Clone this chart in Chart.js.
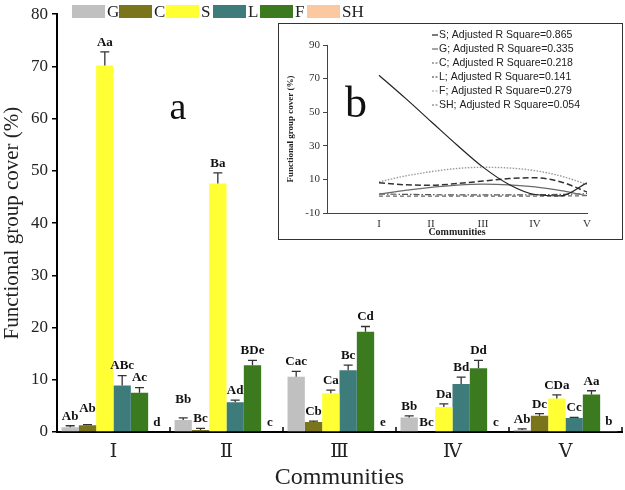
<!DOCTYPE html>
<html>
<head>
<meta charset="utf-8">
<script src="https://cdn.jsdelivr.net/npm/chart.js@4.4.1/dist/chart.umd.min.js"></script>
<style>
  body { margin: 0; background: #fff; }
  #wrap { position: relative; width: 625px; height: 490px; }
  #wrap canvas { display: block; }
  #inset { position: absolute; left: 278px; top: 23px; width: 343px; height: 215px; border: 1px solid #333; background: #fff; }
</style>
</head>
<body>
<div id="wrap">
  <canvas id="main" width="625" height="490"></canvas>
  <div id="inset"><canvas id="fit" width="343" height="215"></canvas></div>
</div>
<script>
// --- data (panel a) ---
const communities = ['Ⅰ', 'Ⅱ', 'Ⅲ', 'Ⅳ', 'Ⅴ'];
const groups = ['G', 'C', 'S', 'L', 'F', 'SH'];

const coverG  = [0.9, 2.3, 10.6, 2.8, 0.4];
const coverC  = [1.3, 0.4, 1.9, 0, 3.1];
const coverS  = [70.2, 47.6, 7.4, 4.8, 6.4];
const coverL  = [8.9, 5.7, 11.8, 9.2, 2.7];
const coverF  = [7.5, 12.8, 19.2, 12.2, 7.2];
const coverSH = [0, 0, 0, 0, 0.2];

const errG  = [0.3, 0.4, 1.0, 0.3, 0.2];
const errC  = [0.1, 0.3, 0.2, 0, 0.4];
const errS  = [2.6, 2.0, 0.6, 0.6, 0.7];
const errL  = [1.9, 0.4, 1.0, 1.3, 0.1];
const errF  = [1.0, 0.9, 1.0, 1.5, 0.7];
const errSH = [0, 0, 0, 0, 0];

const letG  = ['Ab', 'Bb', 'Cac', 'Bb', 'Ab'];
const letC  = ['Ab', 'Bc', 'Cb', 'Bc', 'Dc'];
const letS  = ['Aa', 'Ba', 'Ca', 'Da', 'CDa'];
const letL  = ['ABc', 'Ad', 'Bc', 'Bd', 'Cc'];
const letF  = ['Ac', 'BDe', 'Cd', 'Dd', 'Aa'];
const letSH = ['d', 'c', 'e', 'c', 'b'];

// --- data (panel b, fitted curves) ---
const fitX = [1, 1.5, 2, 2.5, 3, 3.5, 4, 4.5, 5];
const fitS  = [72, 58.5, 44.5, 30.5, 17.3, 7, 1, 0.2, 8];
const fitG  = [1.2, 3.5, 5.3, 6.6, 7.2, 6.8, 5.6, 3.3, 0.3];
const fitC  = [1.3, 1.1, 0.9, 0.8, 0.8, 0.8, 0.9, 1.1, 1.5];
const fitL  = [8, 6.8, 6.5, 7.5, 9, 10.5, 11, 8.5, 2.5];
const fitF  = [8.5, 12, 14.6, 16.5, 17.2, 16.8, 15.2, 12, 7];
const fitSH = [0.1, 0, 0, 0, 0, 0, 0, 0.1, 0.3];
const fitR2 = ['0.865', '0.335', '0.218', '0.141', '0.279', '0.054'];
const romans = ['I', 'II', 'III', 'IV', 'V'];

const colors = ['#c0c0c0', '#7a741c', '#ffff33', '#3e7b7b', '#3c7a20', '#fbc8a0'];
const covers = [coverG, coverC, coverS, coverL, coverF, coverSH];
const errors = [errG, errC, errS, errL, errF, errSH];
const letters = [letG, letC, letS, letL, letF, letSH];

// a few letter labels sit higher in the original (dataset, community) -> extra lift in px
const letterLift = { '1,0': 7, '0,1': 9 };

const serif = "'Liberation Serif', 'DejaVu Serif', serif";

const barExtras = {
  id: 'barExtras',
  afterDatasetsDraw(chart) {
    const ctx = chart.ctx, y = chart.scales.y, x = chart.scales.x;
    ctx.save();
    chart.data.datasets.forEach((ds, di) => {
      chart.getDatasetMeta(di).data.forEach((bar, i) => {
        const e = errors[di][i];
        const top = y.getPixelForValue(ds.data[i] + e);
        if (e > 0) {
          ctx.strokeStyle = '#333';
          ctx.lineWidth = 1.3;
          ctx.beginPath();
          ctx.moveTo(bar.x, bar.y);
          ctx.lineTo(bar.x, top);
          ctx.moveTo(bar.x - 4.5, top);
          ctx.lineTo(bar.x + 4.5, top);
          ctx.stroke();
        }
        ctx.fillStyle = '#111';
        ctx.font = 'bold 13px ' + serif;
        ctx.textAlign = 'center';
        ctx.textBaseline = 'bottom';
        ctx.fillText(letters[di][i], bar.x, top - 3 - (letterLift[di + ',' + i] || 0));
      });
    });

    // small upward ticks between the community groups
    ctx.strokeStyle = '#000';
    ctx.lineWidth = 1.5;
    const step = x.width / communities.length;
    for (let k = 1; k <= communities.length; k++) {
      const px = x.left + k * step;
      ctx.beginPath();
      ctx.moveTo(px, x.top);
      ctx.lineTo(px, x.top - 5);
      ctx.stroke();
    }

    // legend along the top
    ctx.font = '17px ' + serif;
    ctx.textAlign = 'left';
    ctx.textBaseline = 'middle';
    groups.forEach((g, i) => {
      const lx = 72 + i * 47;
      ctx.fillStyle = colors[i];
      ctx.fillRect(lx, 5, 33, 13);
      ctx.fillStyle = '#222';
      ctx.fillText(g, lx + 35, 13);
    });

    ctx.font = '38px ' + serif;
    ctx.fillStyle = '#111';
    ctx.textAlign = 'center';
    ctx.fillText('a', 178, 109);
    ctx.restore();
  }
};

new Chart(document.getElementById('main'), {
  type: 'bar',
  data: {
    labels: communities,
    datasets: groups.map((g, i) => ({
      label: g,
      data: covers[i],
      backgroundColor: colors[i],
      borderWidth: 0,
      categoryPercentage: 0.92,
      barPercentage: 1
    }))
  },
  options: {
    responsive: false,
    animation: false,
    layout: { padding: { top: 10, right: 3, left: 0, bottom: 0 } },
    plugins: { legend: { display: false }, tooltip: { enabled: false } },
    scales: {
      x: {
        grid: { display: false, drawTicks: false },
        border: { color: '#000', width: 2 },
        ticks: { font: { family: serif, size: 19 }, color: '#222', padding: 9 },
        title: { display: true, text: 'Communities', color: '#222', font: { family: serif, size: 24, lineHeight: 1 }, padding: { top: 0, bottom: 0 } },
        afterFit: s => { s.height = 58; }
      },
      y: {
        min: 0,
        max: 80,
        ticks: { stepSize: 10, font: { family: serif, size: 17 }, color: '#222', padding: 4 },
        grid: { drawOnChartArea: false, tickLength: 5, color: '#000', lineWidth: 1.5 },
        border: { color: '#000', width: 2 },
        title: { display: true, text: 'Functional group cover (%)', color: '#222', font: { family: serif, size: 21 }, padding: { top: 0, bottom: 0 } },
        afterFit: s => { s.width = 57; }
      }
    }
  },
  plugins: [barExtras]
});

// --- inset (panel b) ---
const lineStyles = [
  { color: '#222', width: 1.2, dash: [] },
  { color: '#6a6a6a', width: 1.2, dash: [] },
  { color: '#555', width: 1.2, dash: [6, 2, 1.5, 2] },
  { color: '#333', width: 1.5, dash: [6, 3] },
  { color: '#999', width: 1.4, dash: [1.5, 1.5] },
  { color: '#666', width: 1.2, dash: [4, 3] }
];
const fitOrder = ['S', 'G', 'C', 'L', 'F', 'SH'];
const fitSeries = [fitS, fitG, fitC, fitL, fitF, fitSH];

const fitLegend = {
  id: 'fitLegend',
  afterDraw(chart) {
    const ctx = chart.ctx;
    ctx.save();
    ctx.font = "10.5px 'Liberation Sans', Arial, sans-serif";
    ctx.textBaseline = 'middle';
    ctx.textAlign = 'left';
    fitOrder.forEach((name, i) => {
      const ly = 11 + i * 14;
      const st = lineStyles[i];
      ctx.strokeStyle = st.color;
      ctx.lineWidth = 1.2;
      ctx.setLineDash(st.dash.length ? [2, 1.5] : []);
      ctx.beginPath();
      ctx.moveTo(153, ly);
      ctx.lineTo(159, ly);
      ctx.stroke();
      ctx.setLineDash([]);
      ctx.fillStyle = '#222';
      ctx.fillText(name + '; Adjusted R Square=' + fitR2[i], 160, ly);
    });
    ctx.font = '44px ' + serif;
    ctx.fillStyle = '#111';
    ctx.textAlign = 'center';
    ctx.fillText('b', 77, 81);
    ctx.restore();
  }
};

new Chart(document.getElementById('fit'), {
  type: 'line',
  data: {
    datasets: fitOrder.map((name, i) => ({
      label: name,
      data: fitX.map((v, k) => ({ x: v, y: fitSeries[i][k] })),
      borderColor: lineStyles[i].color,
      borderWidth: lineStyles[i].width,
      borderDash: lineStyles[i].dash,
      pointRadius: 0,
      tension: 0.4,
      cubicInterpolationMode: 'monotone',
      fill: false
    }))
  },
  options: {
    responsive: false,
    animation: false,
    layout: { padding: { top: 21, right: 35, left: 0, bottom: 0 } },
    plugins: { legend: { display: false }, tooltip: { enabled: false } },
    scales: {
      x: {
        type: 'linear',
        min: 0,
        max: 5,
        grid: { display: false, drawTicks: false },
        border: { color: '#444', width: 1 },
        ticks: {
          stepSize: 1,
          font: { family: serif, size: 11 },
          color: '#333',
          padding: 5,
          callback: v => romans[v - 1] || ''
        },
        title: { display: true, text: 'Communities', color: '#222', font: { family: serif, size: 10, weight: 'bold', lineHeight: 1 }, padding: { top: 0, bottom: 2 } },
        afterFit: s => { s.height = 26; }
      },
      y: {
        min: -10,
        max: 90,
        ticks: { stepSize: 20, font: { family: serif, size: 11 }, color: '#333', padding: 3 },
        grid: { drawOnChartArea: false, tickLength: 4, color: '#444' },
        border: { color: '#444', width: 1 },
        title: { display: true, text: 'Functional group cover (%)', color: '#222', font: { family: serif, size: 9, weight: 'bold' }, padding: { top: 6, bottom: 0 } },
        afterFit: s => { s.width = 48; }
      }
    }
  },
  plugins: [fitLegend]
});
</script>
</body>
</html>
